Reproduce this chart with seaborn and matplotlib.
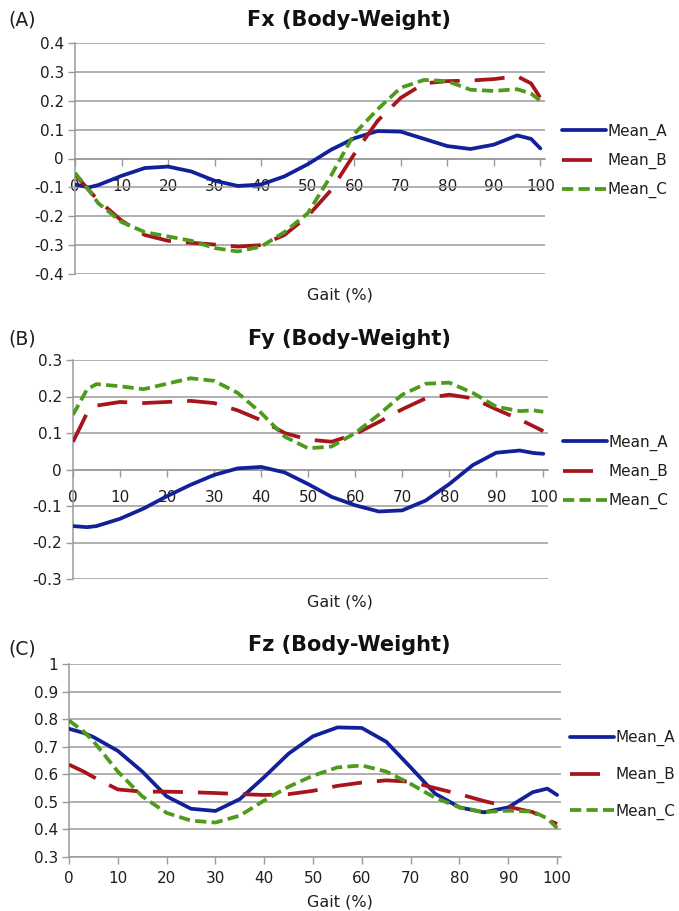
import numpy as np
import pandas as pd
import matplotlib
matplotlib.use("Agg")
import matplotlib.pyplot as plt
import seaborn as sns

# ---------------- data ----------------
gait = [0, 3, 5, 10, 15, 20, 25, 30, 35, 40, 45, 50, 55, 60, 65, 70, 75, 80, 85, 90, 95, 98, 100]

fx_a = [-0.09, -0.1, -0.092, -0.06, -0.033, -0.028, -0.045, -0.077, -0.095, -0.09, -0.062, -0.02,
        0.03, 0.07, 0.095, 0.093, 0.068, 0.043, 0.033, 0.048, 0.08, 0.068, 0.035]
fx_b = [-0.055, -0.11, -0.145, -0.215, -0.265, -0.285, -0.292, -0.298, -0.305, -0.3, -0.265, -0.2,
        -0.11, 0.015, 0.13, 0.21, 0.26, 0.268, 0.27, 0.275, 0.285, 0.26, 0.21]
fx_c = [-0.05, -0.11, -0.155, -0.22, -0.255, -0.27, -0.285, -0.31, -0.322, -0.305, -0.255, -0.19,
        -0.06, 0.085, 0.17, 0.245, 0.272, 0.268, 0.238, 0.234, 0.24, 0.225, 0.2]

fy_a = [-0.155, -0.158, -0.155, -0.135, -0.107, -0.073, -0.042, -0.015, 0.003, 0.007, -0.008, -0.04,
        -0.075, -0.098, -0.115, -0.112, -0.085, -0.04, 0.012, 0.046, 0.052, 0.045, 0.043]
fy_b = [0.076, 0.155, 0.175, 0.185, 0.182, 0.185, 0.188, 0.182, 0.162, 0.135, 0.1, 0.082,
        0.076, 0.097, 0.13, 0.165, 0.195, 0.205, 0.195, 0.165, 0.137, 0.118, 0.105]
fy_c = [0.15, 0.22, 0.234, 0.228, 0.22, 0.235, 0.25, 0.243, 0.21, 0.155, 0.09, 0.058,
        0.063, 0.1, 0.15, 0.205, 0.235, 0.238, 0.21, 0.172, 0.16, 0.162, 0.158]

fz_a = [0.765, 0.75, 0.735, 0.685, 0.61, 0.52, 0.475, 0.467, 0.51, 0.59, 0.675, 0.738,
        0.77, 0.768, 0.718, 0.625, 0.53, 0.48, 0.462, 0.48, 0.535, 0.548, 0.525]
fz_b = [0.635, 0.61, 0.59, 0.545, 0.537, 0.537, 0.535, 0.532, 0.528, 0.525, 0.528, 0.54,
        0.558, 0.57, 0.578, 0.573, 0.55, 0.528, 0.503, 0.482, 0.463, 0.435, 0.42]
fz_c = [0.795, 0.755, 0.72, 0.61, 0.52, 0.46, 0.432, 0.425, 0.45, 0.505, 0.555, 0.595,
        0.625, 0.632, 0.61, 0.565, 0.515, 0.48, 0.463, 0.468, 0.465, 0.44, 0.405]

series_names = ["Mean_A", "Mean_B", "Mean_C"]
panel_letters = ["(A)", "(B)", "(C)"]
panel_titles = ["Fx (Body-Weight)", "Fy (Body-Weight)", "Fz (Body-Weight)"]
x_label = "Gait (%)"

x_ticks = [0, 10, 20, 30, 40, 50, 60, 70, 80, 90, 100]
x_ticklabels = ["0", "10", "20", "30", "40", "50", "60", "70", "80", "90", "100"]

ya_ticks = [0.4, 0.3, 0.2, 0.1, 0, -0.1, -0.2, -0.3, -0.4]
ya_labels = ["0.4", "0.3", "0.2", "0.1", "0", "-0.1", "-0.2", "-0.3", "-0.4"]
yb_ticks = [0.3, 0.2, 0.1, 0, -0.1, -0.2, -0.3]
yb_labels = ["0.3", "0.2", "0.1", "0", "-0.1", "-0.2", "-0.3"]
yc_ticks = [1, 0.9, 0.8, 0.7, 0.6, 0.5, 0.4, 0.3]
yc_labels = ["1", "0.9", "0.8", "0.7", "0.6", "0.5", "0.4", "0.3"]

# ---------------- style ----------------
sns.set_style("white")
plt.rcParams["font.family"] = ["DejaVu Sans"]

colors = {"Mean_A": "#12209a", "Mean_B": "#a8141c", "Mean_C": "#4e9a1a"}
styles = {"Mean_A": "-", "Mean_B": (0, (8, 4)), "Mean_C": (0, (3, 1.4))}
GRID = "#9a9a9a"
TXT = "#1e1e1e"

W, H = 679, 911
fig = plt.figure(figsize=(W / 100, H / 100), dpi=100)


def fx(px):
    return px / W


def fy(py):
    return 1 - py / H


panels = [
    dict(data=[fx_a, fx_b, fx_c], rect=(75, 545, 43, 274), ylim=(-0.4, 0.4), xlim=(0, 101),
         yt=ya_ticks, yl=ya_labels, zero_axis=True, pad=10,
         letter_y=20, title_y=20, xlab_y=295, leg=(562, 161), lspace=0.85),
    dict(data=[fy_a, fy_b, fy_c], rect=(73, 548, 360, 579), ylim=(-0.3, 0.3), xlim=(0, 101),
         yt=yb_ticks, yl=yb_labels, zero_axis=True, pad=10,
         letter_y=339, title_y=339, xlab_y=602, leg=(563, 472), lspace=0.85),
    dict(data=[fz_a, fz_b, fz_c], rect=(69, 561, 664, 857), ylim=(0.3, 1.0), xlim=(0, 100.8),
         yt=yc_ticks, yl=yc_labels, zero_axis=False, pad=5,
         letter_y=649, title_y=645, xlab_y=902, leg=(570, 775), lspace=1.35),
]

for i, p in enumerate(panels):
    l, r, t, b = p["rect"]
    ax = fig.add_axes([fx(l), fy(b), fx(r) - fx(l), fy(t) - fy(b)])
    df = pd.DataFrame({"gait": gait})
    for name, vals in zip(series_names, p["data"]):
        df[name] = vals
    for name in series_names:
        sns.lineplot(data=df, x="gait", y=name, ax=ax, color=colors[name],
                     linestyle=styles[name], linewidth=2.7, label=name, zorder=3)

    ax.set_xlim(*p["xlim"])
    ax.set_ylim(*p["ylim"])
    ax.set_yticks(p["yt"])
    ax.set_yticklabels(p["yl"])
    ax.set_xticks(x_ticks)
    ax.set_xticklabels(x_ticklabels)
    ax.set_xlabel("")
    ax.set_ylabel("")

    ax.yaxis.grid(True, color=GRID, linewidth=1.1)
    ax.xaxis.grid(False)
    ax.set_axisbelow(True)
    for s in ["top", "right"]:
        ax.spines[s].set_visible(False)
    for s in ["left", "bottom"]:
        ax.spines[s].set_color(GRID)
        ax.spines[s].set_linewidth(1.1)
    if p["zero_axis"]:
        ax.spines["bottom"].set_position(("data", 0))
    ax.tick_params(axis="x", direction="out", length=5, width=1.0, color=GRID,
                   pad=p["pad"], labelsize=11, labelcolor=TXT)
    ax.tick_params(axis="y", direction="out", length=5, width=1.0, color=GRID,
                   pad=3, labelsize=11, labelcolor=TXT)
    ax.tick_params(bottom=True, left=True)

    lx, ly = p["leg"]
    leg = ax.legend(loc="center left", bbox_to_anchor=(fx(lx), fy(ly)),
                    bbox_transform=fig.transFigure, frameon=False, fontsize=11,
                    handlelength=2.9, handletextpad=0.05, borderpad=0, borderaxespad=0,
                    labelspacing=p["lspace"])
    for txt in leg.get_texts():
        txt.set_color(TXT)

    fig.text(fx(8), fy(p["letter_y"]), panel_letters[i], ha="left", va="center",
             fontsize=13.5, color=TXT)
    fig.text(fx(349), fy(p["title_y"]), panel_titles[i], ha="center", va="center",
             fontsize=15, fontweight="bold", color="#111111")
    fig.text(fx(340), fy(p["xlab_y"]), x_label, ha="center", va="center",
             fontsize=11.5, color=TXT)

fig.savefig("out.png", dpi=100)
